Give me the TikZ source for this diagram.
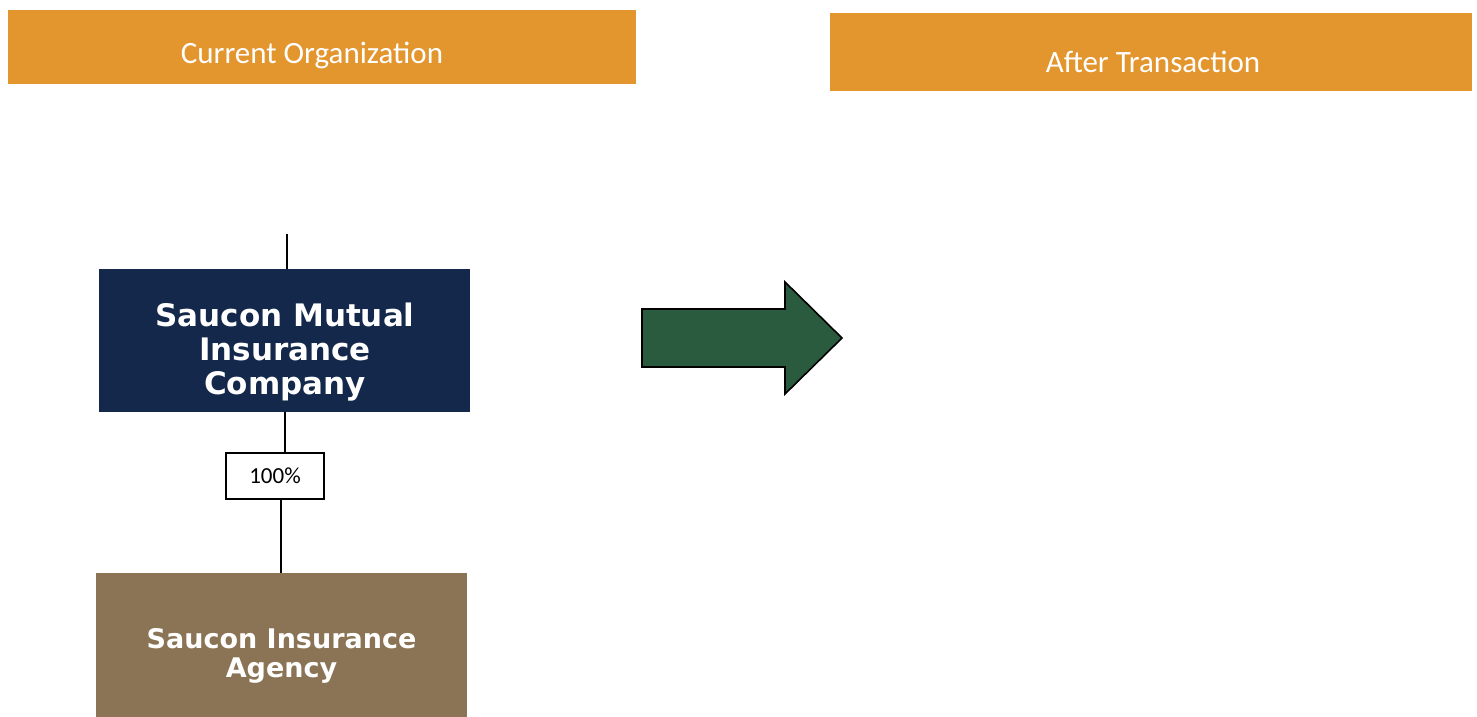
\documentclass[tikz,border=0pt]{standalone}
\usepackage{fontspec}
\setmainfont{Carlito}
\newfontfamily\verd{DejaVu Sans}
\definecolor{hdrorange}{HTML}{E3952E}
\definecolor{navybox}{HTML}{13284A}
\definecolor{brownbox}{HTML}{8A7455}
\definecolor{arrowgreen}{HTML}{2B5B3E}
\tikzset{
  header/.style={fill=hdrorange, draw=none, inner sep=0pt},
  headtext/.style={text=white, font=\fontsize{31}{36}\selectfont, inner sep=0pt},
  entity/.style={draw=none, text=white, align=center, inner sep=0pt},
  pct/.style={draw=black, line width=1.2pt, fill=white, font=\fontsize{23}{26}\selectfont, minimum width=98pt, minimum height=46pt, inner sep=0pt},
  link/.style={draw=black, line width=1.4pt},
  bigarrow/.style={draw=black, line width=1.6pt, fill=arrowgreen, line join=miter}
}
\begin{document}
\begin{tikzpicture}[x=1pt,y=-1pt]
\useasboundingbox (0,0) rectangle (1477,717);
\fill[white] (0,0) rectangle (1477,717);
% headers
\node[header, minimum width=628pt, minimum height=73pt] (h1) at (322,47) {};
\node[headtext] (t1) at (312,55) {Current Organization};
\node[header, minimum width=642pt, minimum height=77pt] (h2) at (1151,52) {};
\node[headtext] (t2) at (1153,62) {After Transaction};
% entities
\fill[navybox] (99,269) rectangle (470,412);
\node[entity, font=\verd\bfseries\fontsize{31}{34}\selectfont] (smict) at (285,352)
      {Saucon Mutual\\Insurance\\Company};
\coordinate (smictop) at (287,269);
\coordinate (smicbot) at (285,412);
\node[pct] (p) at (275,476) {100\%};
\fill[brownbox] (96,573) rectangle (467,717);
\node[entity, font=\verd\bfseries\fontsize{27}{29}\selectfont] (sia) at (281.5,656)
      {Saucon Insurance\\Agency};
\coordinate (top) at (287,234);
\coordinate (siatop) at (281,573);
\draw[link] (top) -- (smictop);
\draw[link] (smicbot) -- (p.north -| smicbot);
\draw[link] (p.south -| siatop) -- (siatop);
% arrow
\draw[bigarrow] (642,309) -- (785,309) -- (785,282) -- (842,338) -- (785,394) -- (785,367) -- (642,367) -- cycle;
\end{tikzpicture}
\end{document}
